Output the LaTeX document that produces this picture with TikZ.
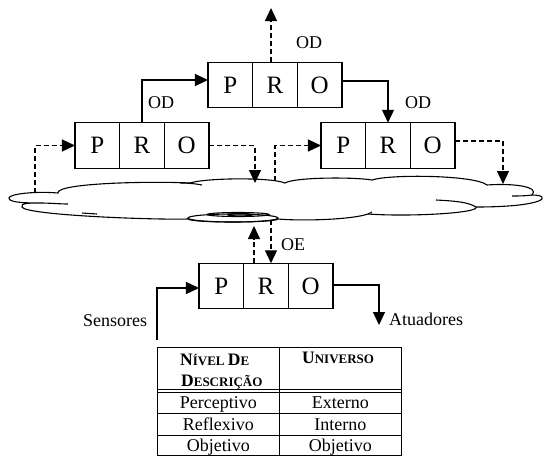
\documentclass[tikz,border=0pt]{standalone}
\usepackage{fontspec}
\setmainfont{Liberation Serif}
\usetikzlibrary{arrows.meta}
\newcommand\bigsc[1]{{\fontsize{17.5}{17.5}\selectfont #1}}
\begin{document}
\begin{tikzpicture}[x=1pt,y=-1pt,
  cell/.style={draw, line width=1.2pt, minimum width=44.67pt, minimum height=45.5pt, inner sep=0pt, outer sep=0pt, font=\fontsize{25}{25}\selectfont},
  lbl/.style={font=\fontsize{18}{18}\selectfont, inner sep=0pt},
  hdr/.style={font=\bfseries\fontsize{13}{13}\selectfont, inner sep=0pt, anchor=base west},
  arr/.style={line width=1.2pt, -{Triangle[length=13pt,width=12pt]}},
  darr/.style={arr, dash pattern=on 5pt off 3pt},
  cloudline/.style={line width=1.1pt},
  tline/.style={line width=1pt}]
\useasboundingbox (0,0) rectangle (544,456);

% PRO boxes
\node[cell] (tP) at (230.33,85) {P};
\node[cell] (tR) at (275,85) {R};
\node[cell] (tO) at (319.67,85) {O};
\node[cell] (lP) at (97.33,145.5) {P};
\node[cell] (lR) at (142,145.5) {R};
\node[cell] (lO) at (186.67,145.5) {O};
\node[cell] (rP) at (343.33,145.5) {P};
\node[cell] (rR) at (388,145.5) {R};
\node[cell] (rO) at (432.67,145.5) {O};
\node[cell] (bP) at (221.33,286) {P};
\node[cell] (bR) at (266,286) {R};
\node[cell] (bO) at (310.67,286) {O};

% cloud
\draw[cloudline] (9,198) .. controls (9,194) and (35,191) .. (58,193)
 .. controls (56,183) and (150,181) .. (190,183)
 .. controls (205,178) and (270,177) .. (285,183)
 .. controls (295,177) and (355,177) .. (372,180)
 .. controls (390,174) and (475,175) .. (487,185)
 .. controls (515,183) and (540,187) .. (532,195)
 .. controls (552,195) and (548,207) .. (476,207)
 .. controls (480,213) and (410,217) .. (368,214)
 .. controls (350,220) and (300,221) .. (278,219)
 .. controls (275,223) and (191,223) .. (188,219)
 .. controls (150,220) and (25,215) .. (22,207)
 .. controls (20,203) and (30,203) .. (40,203)
 .. controls (20,203) and (9,202) .. cycle;
\draw[cloudline] (40,203) .. controls (50,203) and (60,204) .. (68,204);
\draw[cloudline] (82,213) -- (97,214);
\draw[cloudline] (180,183) .. controls (190,183) and (197,184) .. (202,185);
\draw[cloudline] (532,195) .. controls (525,196) and (518,196) .. (512,196);
\draw[cloudline] (436,200) .. controls (455,201) and (468,202) .. (476,207);
\draw[cloudline] (368,214) -- (372,212);
\draw[cloudline] (233,218) ellipse [x radius=45pt, y radius=4pt];
\draw[cloudline] (238,214.5) ellipse [x radius=31pt, y radius=2pt];
\draw[line width=1.3pt] (240,214.8) ellipse [x radius=12pt, y radius=1.2pt];

% connector ends
\coordinate (topout) at (271,8);
\coordinate (lin) at (35,193);
\coordinate (lout) at (255,183);
\coordinate (rin) at (275,181);
\coordinate (rout) at (503,184);
\coordinate (eup) at (254,226);
\coordinate (edn) at (271,220);
\coordinate (sens) at (157,340);
\coordinate (atu) at (379,325);

% connectors
\draw[darr] (topout |- tR.north) -- (topout);
\draw[arr] (lR.north) |- ([yshift=5pt]tP.west);
\draw[arr] ([yshift=4pt]tO.east) -| (rR.north);
\draw[darr] (lin) |- (lP.west);
\draw[darr] (lO.east) -| (lout);
\draw[darr] (rin) |- (rP.west);
\draw[darr] ([yshift=4.5pt]rO.east) -| (rout);
\draw[darr] (eup |- bR.north) -- (eup);
\draw[darr] (edn) -- (edn |- bR.north);
\draw[arr] (sens) |- ([yshift=-2pt]bP.west);
\draw[arr] ([yshift=1pt]bO.east) -| (atu);

% labels
\node[lbl, anchor=base west] (od1) at (296,48.3) {OD};
\node[lbl, anchor=base west] (od2) at (148,108.3) {OD};
\node[lbl, anchor=base west] (od3) at (405,108.3) {OD};
\node[lbl, anchor=base west] (oe) at (281,250) {OE};
\node[lbl, anchor=base west] (sen) at (83,326.7) {Sensores};
\node[lbl, anchor=base west] (atl) at (389,325) {Atuadores};

% table
\draw[tline] (157.7,347.7) rectangle (401.7,455);
\draw[tline] (279,347.7) -- (279,455);
\draw[tline] (157.7,389.3) -- (401.7,389.3);
\draw[tline] (157.7,392.7) -- (401.7,392.7);
\draw[tline] (157.7,413) -- (401.7,413);
\draw[tline] (157.7,435) -- (401.7,435);
\node[hdr] (h1) at (180,365.7) {\bigsc{N}ÍVEL \bigsc{D}E};
\node[hdr] (h2) at (181,386.7) {\bigsc{D}ESCRIÇÃO};
\node[hdr] (h3) at (302,363.3) {\bigsc{U}NIVERSO};
\node[lbl, anchor=base] (c11) at (218.3,408.3) {Perceptivo};
\node[lbl, anchor=base] (c12) at (340.3,408.3) {Externo};
\node[lbl, anchor=base] (c21) at (218.3,430.7) {Reflexivo};
\node[lbl, anchor=base] (c22) at (340.3,430.7) {Interno};
\node[lbl, anchor=base] (c31) at (218.3,451.7) {Objetivo};
\node[lbl, anchor=base] (c32) at (340.3,451.7) {Objetivo};
\end{tikzpicture}
\end{document}
